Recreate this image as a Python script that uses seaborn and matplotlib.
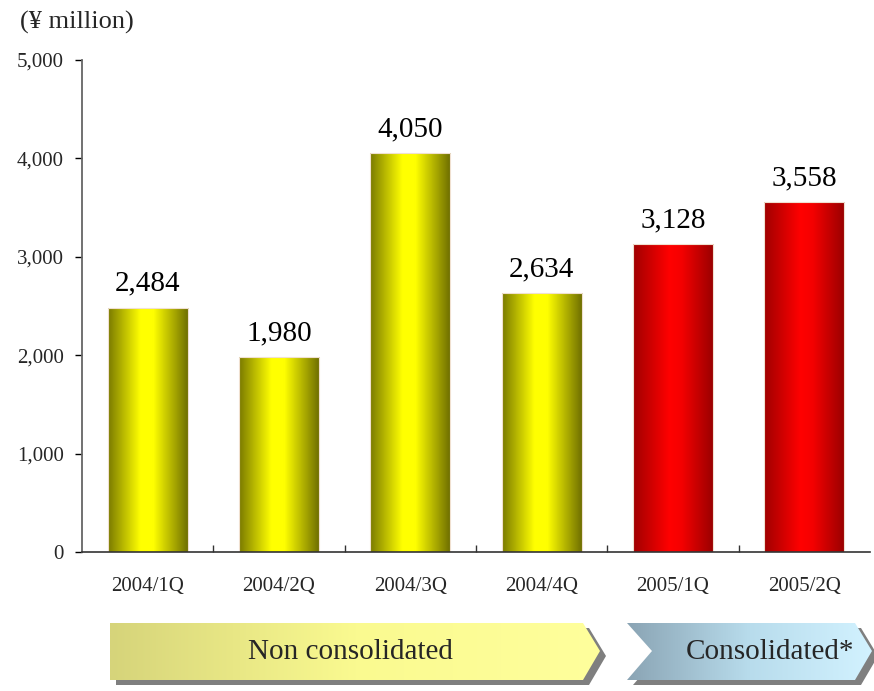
import numpy as np
import matplotlib
matplotlib.use("Agg")
import matplotlib.pyplot as plt
import seaborn as sns
from matplotlib.colors import LinearSegmentedColormap
from matplotlib.patches import Polygon
from matplotlib.ticker import FuncFormatter, FixedLocator

# ---- data ----
quarters = ['2004/1Q', '2004/2Q', '2004/3Q', '2004/4Q', '2005/1Q', '2005/2Q']
sales = [2484, 1980, 4050, 2634, 3128, 3558]
basis = ['Non consolidated'] * 4 + ['Consolidated'] * 2
unit_label = '(¥ million)'
banner_labels = ['Non consolidated', 'Consolidated*']

sns.set_theme(style='white')
plt.rcParams['font.family'] = ['Liberation Serif', 'DejaVu Serif']

W, H = 874, 691
fig = plt.figure(figsize=(W / 100, H / 100), dpi=100)
ax = fig.add_axes([82 / W, 1 - 552 / H, (870 - 82) / W, (552 - 60) / H])

palette = {'Non consolidated': '#ffff00', 'Consolidated': '#ff0000'}
sns.barplot(x=quarters, y=sales, hue=basis, palette=palette, dodge=False,
            width=0.61, legend=False, ax=ax, saturation=1)

ax.set_xlim(-0.5, len(quarters) - 0.5)
ax.set_ylim(0, 5000)

cmaps = {
    'Non consolidated': LinearSegmentedColormap.from_list(
        'yl', [(0, '#7a7a00'), (0.4, '#ffff00'), (0.56, '#ffff00'), (1, '#6c6c00')]),
    'Consolidated': LinearSegmentedColormap.from_list(
        'rd', [(0, '#a00000'), (0.45, '#ff0000'), (0.6, '#f50000'), (1, '#980000')]),
}
grad = np.linspace(0, 1, 256).reshape(1, -1)
for p in list(ax.patches):
    w = p.get_width()
    h = p.get_height()
    if h <= 0 or np.isnan(h):
        continue
    x0 = p.get_x()
    idx = int(round(x0 + w / 2))
    p.set_facecolor('none')
    p.set_edgecolor('#f0e0d0')
    p.set_linewidth(0.8)
    im = ax.imshow(grad, cmap=cmaps[basis[idx]], aspect='auto',
                   extent=[x0, x0 + w, 0, h], zorder=p.get_zorder() - 0.1)
    im.set_clip_path(p)
    ax.text(x0 + w / 2, h + 110, f'{sales[idx]:,}', ha='center', va='bottom',
            fontsize=21, color='black')

ax.set_xlim(-0.5, len(quarters) - 0.5)
ax.set_ylim(0, 5000)
ax.set_yticks(range(0, 5001, 1000))
ax.yaxis.set_major_formatter(FuncFormatter(lambda v, _: f'{int(v):,}'))
ax.tick_params(axis='y', which='major', direction='out', length=5, width=1,
               color='black', pad=8, labelsize=15, left=True)
ax.tick_params(axis='x', which='major', length=0, pad=18, labelsize=15)
ax.xaxis.set_minor_locator(FixedLocator(np.arange(0.5, len(quarters) - 1, 1.0)))
ax.tick_params(axis='x', which='minor', direction='in', length=5, width=1,
               color='#333333', bottom=True)
for s in ['top', 'right']:
    ax.spines[s].set_visible(False)
ax.spines['left'].set_color('#666666')
ax.spines['left'].set_linewidth(1.3)
ax.spines['bottom'].set_color('#333333')
ax.spines['bottom'].set_linewidth(1.2)
ax.set_xlabel('')
ax.set_ylabel('')

fig.text(20 / W, 1 - 22 / H, unit_label, ha='left', va='center', fontsize=19)

# ---- bottom banners (decoration) ----
ov = fig.add_axes([0, 0, 1, 1], zorder=-1)
ov.set_xlim(0, W)
ov.set_ylim(H, 0)
ov.axis('off')

b1 = [(110, 623), (583, 623), (600, 651), (583, 680), (110, 680)]
b2 = [(627, 623), (855, 623), (872, 651), (855, 680), (627, 680), (652, 651)]
cm1 = LinearSegmentedColormap.from_list('b1', ['#d6d47a', '#fafa90', '#ffff9c'])
cm2 = LinearSegmentedColormap.from_list('b2', ['#8aa4b4', '#b8dcec', '#d2f2ff'])
for pts, cm, label, cx in [(b1, cm1, banner_labels[0], 350),
                           (b2, cm2, banner_labels[1], 770)]:
    sh = Polygon([(x + 6, y + 5) for x, y in pts], closed=True,
                 facecolor='#7f7f7f', edgecolor='none', zorder=1)
    ov.add_patch(sh)
    poly = Polygon(pts, closed=True, facecolor='none', edgecolor='none', zorder=3)
    ov.add_patch(poly)
    xs = [q[0] for q in pts]
    ys = [q[1] for q in pts]
    im = ov.imshow(grad, cmap=cm, aspect='auto',
                   extent=[min(xs), max(xs), max(ys), min(ys)], zorder=2)
    im.set_clip_path(poly)
    ov.text(cx, 652, label, ha='center', va='center', fontsize=21, zorder=4)
ov.set_xlim(0, W)
ov.set_ylim(H, 0)

fig.savefig('out.png', dpi=100)
